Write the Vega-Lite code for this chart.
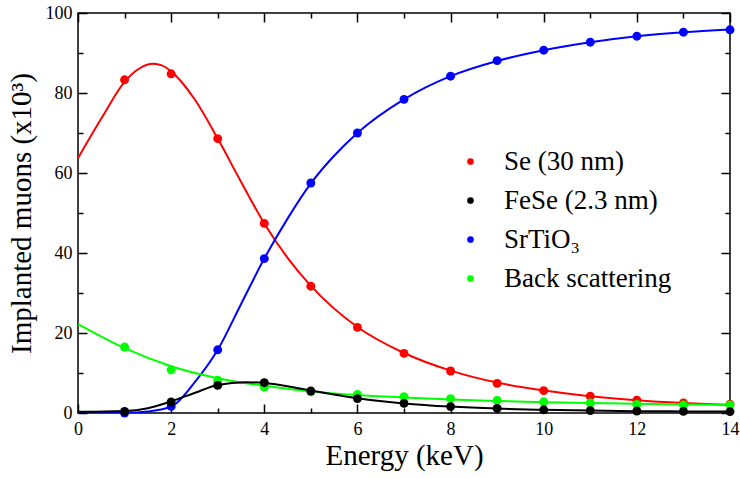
{
  "$schema": "https://vega.github.io/schema/vega-lite/v6.json",
  "width": 652,
  "height": 400,
  "autosize": "none",
  "padding": {"left": 78, "top": 13, "right": 10, "bottom": 66},
  "background": "white",
  "config": {
    "view": {"stroke": "black", "strokeWidth": 1.5},
    "font": "Liberation Serif, Times New Roman, serif",
    "axis": {
      "grid": false,
      "domain": false,
      "tickColor": "black",
      "tickWidth": 1.5,
      "labelFont": "Liberation Serif, Times New Roman, serif",
      "labelFontSize": 18,
      "labelColor": "black",
      "titleFont": "Liberation Serif, Times New Roman, serif",
      "titleFontSize": 29,
      "titleFontWeight": "normal",
      "titleColor": "black"
    },
    "legend": {"labelFont": "Liberation Serif, Times New Roman, serif"}
  },
  "datasets": {
    "pts": [
      {"E": 1, "v": 83.3, "s": "Se (30 nm)"},
      {"E": 2, "v": 84.8, "s": "Se (30 nm)"},
      {"E": 3, "v": 68.6, "s": "Se (30 nm)"},
      {"E": 4, "v": 47.4, "s": "Se (30 nm)"},
      {"E": 5, "v": 31.7, "s": "Se (30 nm)"},
      {"E": 6, "v": 21.4, "s": "Se (30 nm)"},
      {"E": 7, "v": 14.9, "s": "Se (30 nm)"},
      {"E": 8, "v": 10.5, "s": "Se (30 nm)"},
      {"E": 9, "v": 7.4, "s": "Se (30 nm)"},
      {"E": 10, "v": 5.6, "s": "Se (30 nm)"},
      {"E": 11, "v": 4.2, "s": "Se (30 nm)"},
      {"E": 12, "v": 3.2, "s": "Se (30 nm)"},
      {"E": 13, "v": 2.5, "s": "Se (30 nm)"},
      {"E": 14, "v": 2.2, "s": "Se (30 nm)"},
      {"E": 1, "v": 0.0, "s": "SrTiO₃"},
      {"E": 2, "v": 1.65, "s": "SrTiO₃"},
      {"E": 3, "v": 15.8, "s": "SrTiO₃"},
      {"E": 4, "v": 38.6, "s": "SrTiO₃"},
      {"E": 5, "v": 57.5, "s": "SrTiO₃"},
      {"E": 6, "v": 70.0, "s": "SrTiO₃"},
      {"E": 7, "v": 78.4, "s": "SrTiO₃"},
      {"E": 8, "v": 84.2, "s": "SrTiO₃"},
      {"E": 9, "v": 88.1, "s": "SrTiO₃"},
      {"E": 10, "v": 90.7, "s": "SrTiO₃"},
      {"E": 11, "v": 92.7, "s": "SrTiO₃"},
      {"E": 12, "v": 94.2, "s": "SrTiO₃"},
      {"E": 13, "v": 95.2, "s": "SrTiO₃"},
      {"E": 14, "v": 95.8, "s": "SrTiO₃"},
      {"E": 1, "v": 16.5, "s": "Back scattering"},
      {"E": 2, "v": 10.8, "s": "Back scattering"},
      {"E": 3, "v": 8.2, "s": "Back scattering"},
      {"E": 4, "v": 6.5, "s": "Back scattering"},
      {"E": 5, "v": 5.3, "s": "Back scattering"},
      {"E": 6, "v": 4.65, "s": "Back scattering"},
      {"E": 7, "v": 4.1, "s": "Back scattering"},
      {"E": 8, "v": 3.6, "s": "Back scattering"},
      {"E": 9, "v": 3.15, "s": "Back scattering"},
      {"E": 10, "v": 2.8, "s": "Back scattering"},
      {"E": 11, "v": 2.5, "s": "Back scattering"},
      {"E": 12, "v": 2.15, "s": "Back scattering"},
      {"E": 13, "v": 2.0, "s": "Back scattering"},
      {"E": 14, "v": 2.0, "s": "Back scattering"},
      {"E": 1, "v": 0.4, "s": "FeSe (2.3 nm)"},
      {"E": 2, "v": 2.75, "s": "FeSe (2.3 nm)"},
      {"E": 3, "v": 6.9, "s": "FeSe (2.3 nm)"},
      {"E": 4, "v": 7.6, "s": "FeSe (2.3 nm)"},
      {"E": 5, "v": 5.5, "s": "FeSe (2.3 nm)"},
      {"E": 6, "v": 3.6, "s": "FeSe (2.3 nm)"},
      {"E": 7, "v": 2.4, "s": "FeSe (2.3 nm)"},
      {"E": 8, "v": 1.6, "s": "FeSe (2.3 nm)"},
      {"E": 9, "v": 1.15, "s": "FeSe (2.3 nm)"},
      {"E": 10, "v": 0.8, "s": "FeSe (2.3 nm)"},
      {"E": 11, "v": 0.6, "s": "FeSe (2.3 nm)"},
      {"E": 12, "v": 0.5, "s": "FeSe (2.3 nm)"},
      {"E": 13, "v": 0.4, "s": "FeSe (2.3 nm)"},
      {"E": 14, "v": 0.35, "s": "FeSe (2.3 nm)"}
    ],
    "fit": [
      {"E": 0, "v": 63.7, "g": "Se"},
      {"E": 0.5, "v": 73.6, "g": "Se"},
      {"E": 1, "v": 82.8, "g": "Se"},
      {"E": 1.3, "v": 86.0, "g": "Se"},
      {"E": 1.62, "v": 87.3, "g": "Se"},
      {"E": 1.8, "v": 86.9, "g": "Se"},
      {"E": 2, "v": 85.4, "g": "Se"},
      {"E": 2.5, "v": 78.5, "g": "Se"},
      {"E": 3, "v": 68.6, "g": "Se"},
      {"E": 3.5, "v": 57.8, "g": "Se"},
      {"E": 4, "v": 47.4, "g": "Se"},
      {"E": 4.5, "v": 38.8, "g": "Se"},
      {"E": 5, "v": 31.8, "g": "Se"},
      {"E": 6, "v": 21.5, "g": "Se"},
      {"E": 7, "v": 15.0, "g": "Se"},
      {"E": 8, "v": 10.6, "g": "Se"},
      {"E": 9, "v": 7.6, "g": "Se"},
      {"E": 10, "v": 5.6, "g": "Se"},
      {"E": 11, "v": 4.2, "g": "Se"},
      {"E": 12, "v": 3.2, "g": "Se"},
      {"E": 13, "v": 2.5, "g": "Se"},
      {"E": 14, "v": 2.0, "g": "Se"},
      {"E": 0, "v": 0.0, "g": "STO"},
      {"E": 1, "v": 0.05, "g": "STO"},
      {"E": 1.5, "v": 0.4, "g": "STO"},
      {"E": 2, "v": 1.6, "g": "STO"},
      {"E": 2.5, "v": 7.6, "g": "STO"},
      {"E": 3, "v": 15.8, "g": "STO"},
      {"E": 3.5, "v": 27.2, "g": "STO"},
      {"E": 4, "v": 38.6, "g": "STO"},
      {"E": 4.5, "v": 48.6, "g": "STO"},
      {"E": 5, "v": 57.4, "g": "STO"},
      {"E": 5.5, "v": 64.3, "g": "STO"},
      {"E": 6, "v": 70.0, "g": "STO"},
      {"E": 7, "v": 78.4, "g": "STO"},
      {"E": 8, "v": 84.2, "g": "STO"},
      {"E": 9, "v": 88.0, "g": "STO"},
      {"E": 10, "v": 90.7, "g": "STO"},
      {"E": 11, "v": 92.7, "g": "STO"},
      {"E": 12, "v": 94.2, "g": "STO"},
      {"E": 13, "v": 95.2, "g": "STO"},
      {"E": 14, "v": 95.9, "g": "STO"},
      {"E": 0, "v": 22.2, "g": "BS"},
      {"E": 1, "v": 16.2, "g": "BS"},
      {"E": 2, "v": 11.7, "g": "BS"},
      {"E": 3, "v": 8.7, "g": "BS"},
      {"E": 4, "v": 6.8, "g": "BS"},
      {"E": 5, "v": 5.4, "g": "BS"},
      {"E": 6, "v": 4.5, "g": "BS"},
      {"E": 7, "v": 3.9, "g": "BS"},
      {"E": 8, "v": 3.4, "g": "BS"},
      {"E": 9, "v": 3.0, "g": "BS"},
      {"E": 10, "v": 2.7, "g": "BS"},
      {"E": 11, "v": 2.5, "g": "BS"},
      {"E": 12, "v": 2.3, "g": "BS"},
      {"E": 13, "v": 2.15, "g": "BS"},
      {"E": 14, "v": 2.05, "g": "BS"},
      {"E": 0, "v": 0.3, "g": "FeSe"},
      {"E": 1, "v": 0.5, "g": "FeSe"},
      {"E": 1.5, "v": 1.2, "g": "FeSe"},
      {"E": 2, "v": 2.9, "g": "FeSe"},
      {"E": 2.5, "v": 5.0, "g": "FeSe"},
      {"E": 3, "v": 7.0, "g": "FeSe"},
      {"E": 3.6, "v": 7.7, "g": "FeSe"},
      {"E": 4, "v": 7.5, "g": "FeSe"},
      {"E": 4.5, "v": 6.7, "g": "FeSe"},
      {"E": 5, "v": 5.6, "g": "FeSe"},
      {"E": 6, "v": 3.7, "g": "FeSe"},
      {"E": 7, "v": 2.4, "g": "FeSe"},
      {"E": 8, "v": 1.6, "g": "FeSe"},
      {"E": 9, "v": 1.1, "g": "FeSe"},
      {"E": 10, "v": 0.8, "g": "FeSe"},
      {"E": 11, "v": 0.6, "g": "FeSe"},
      {"E": 12, "v": 0.45, "g": "FeSe"},
      {"E": 13, "v": 0.4, "g": "FeSe"},
      {"E": 14, "v": 0.35, "g": "FeSe"}
    ]
  },
  "layer": [
    {
      "data": {"name": "fit"},
      "mark": {"type": "line", "interpolate": "monotone", "strokeWidth": 2, "clip": true},
      "encoding": {
        "x": {"field": "E", "type": "quantitative", "scale": {"domain": [0, 14], "nice": false, "zero": false},
          "axis": {"orient": "bottom", "title": "Energy (keV)", "values": [0,1,2,3,4,5,6,7,8,9,10,11,12,13,14],
            "labelExpr": "datum.value % 2 === 0 ? datum.label : ''",
            "tickSize": {"condition": {"test": "datum.value % 2 === 0", "value": -9}, "value": -5},
            "labelPadding": 16, "titlePadding": 3, "labelFlush": false}},
        "y": {"field": "v", "type": "quantitative", "scale": {"domain": [0, 100], "nice": false, "zero": false},
          "axis": {"orient": "left", "title": "Implanted muons (x10³)", "values": [0,10,20,30,40,50,60,70,80,90,100],
            "labelExpr": "datum.value % 20 === 0 ? datum.label : ''",
            "tickSize": {"condition": {"test": "datum.value % 20 === 0", "value": -9}, "value": -5},
            "labelPadding": 15, "titlePadding": 9, "labelFlush": false}},
        "stroke": {"field": "g", "type": "nominal",
          "scale": {"domain": ["Se", "FeSe", "STO", "BS"], "range": ["#ff0000", "#000000", "#0000ff", "#00ff00"]},
          "legend": null}
      }
    },
    {
      "data": {"name": "pts"},
      "mark": {"type": "point", "filled": true, "size": 80, "opacity": 1},
      "encoding": {
        "x": {"field": "E", "type": "quantitative", "scale": {"domain": [0, 14], "nice": false, "zero": false}, "axis": null},
        "y": {"field": "v", "type": "quantitative", "scale": {"domain": [0, 100], "nice": false, "zero": false}, "axis": null},
        "color": {"field": "s", "type": "nominal",
          "scale": {"domain": ["Se (30 nm)", "FeSe (2.3 nm)", "SrTiO₃", "Back scattering"], "range": ["#ff0000", "#000000", "#0000ff", "#00ff00"]},
          "legend": {"title": null, "orient": "none", "legendX": 379, "legendY": 135, "padding": 0,
            "symbolType": "circle", "symbolSize": 45, "labelFont": "Liberation Serif, Times New Roman, serif", "labelFontSize": 27,
            "labelColor": "black", "labelOffset": 20, "rowPadding": 11, "symbolStrokeWidth": 0, "labelLimit": 400}}
      }
    },
    {
      "data": {"name": "pts"},
      "mark": {"type": "point", "opacity": 0},
      "encoding": {
        "x": {"field": "E", "type": "quantitative", "scale": {"domain": [0, 14], "nice": false, "zero": false},
          "axis": {"orient": "top", "title": null, "labels": false, "values": [0,1,2,3,4,5,6,7,8,9,10,11,12,13,14],
            "tickSize": {"condition": {"test": "datum.value % 2 === 0", "value": -9}, "value": -5}}},
        "y": {"field": "v", "type": "quantitative", "scale": {"domain": [0, 100], "nice": false, "zero": false},
          "axis": {"orient": "right", "title": null, "labels": false, "values": [0,10,20,30,40,50,60,70,80,90,100],
            "tickSize": {"condition": {"test": "datum.value % 20 === 0", "value": -9}, "value": -5}}}
      }
    }
  ],
  "resolve": {"axis": {"x": "independent", "y": "independent"}}
}
